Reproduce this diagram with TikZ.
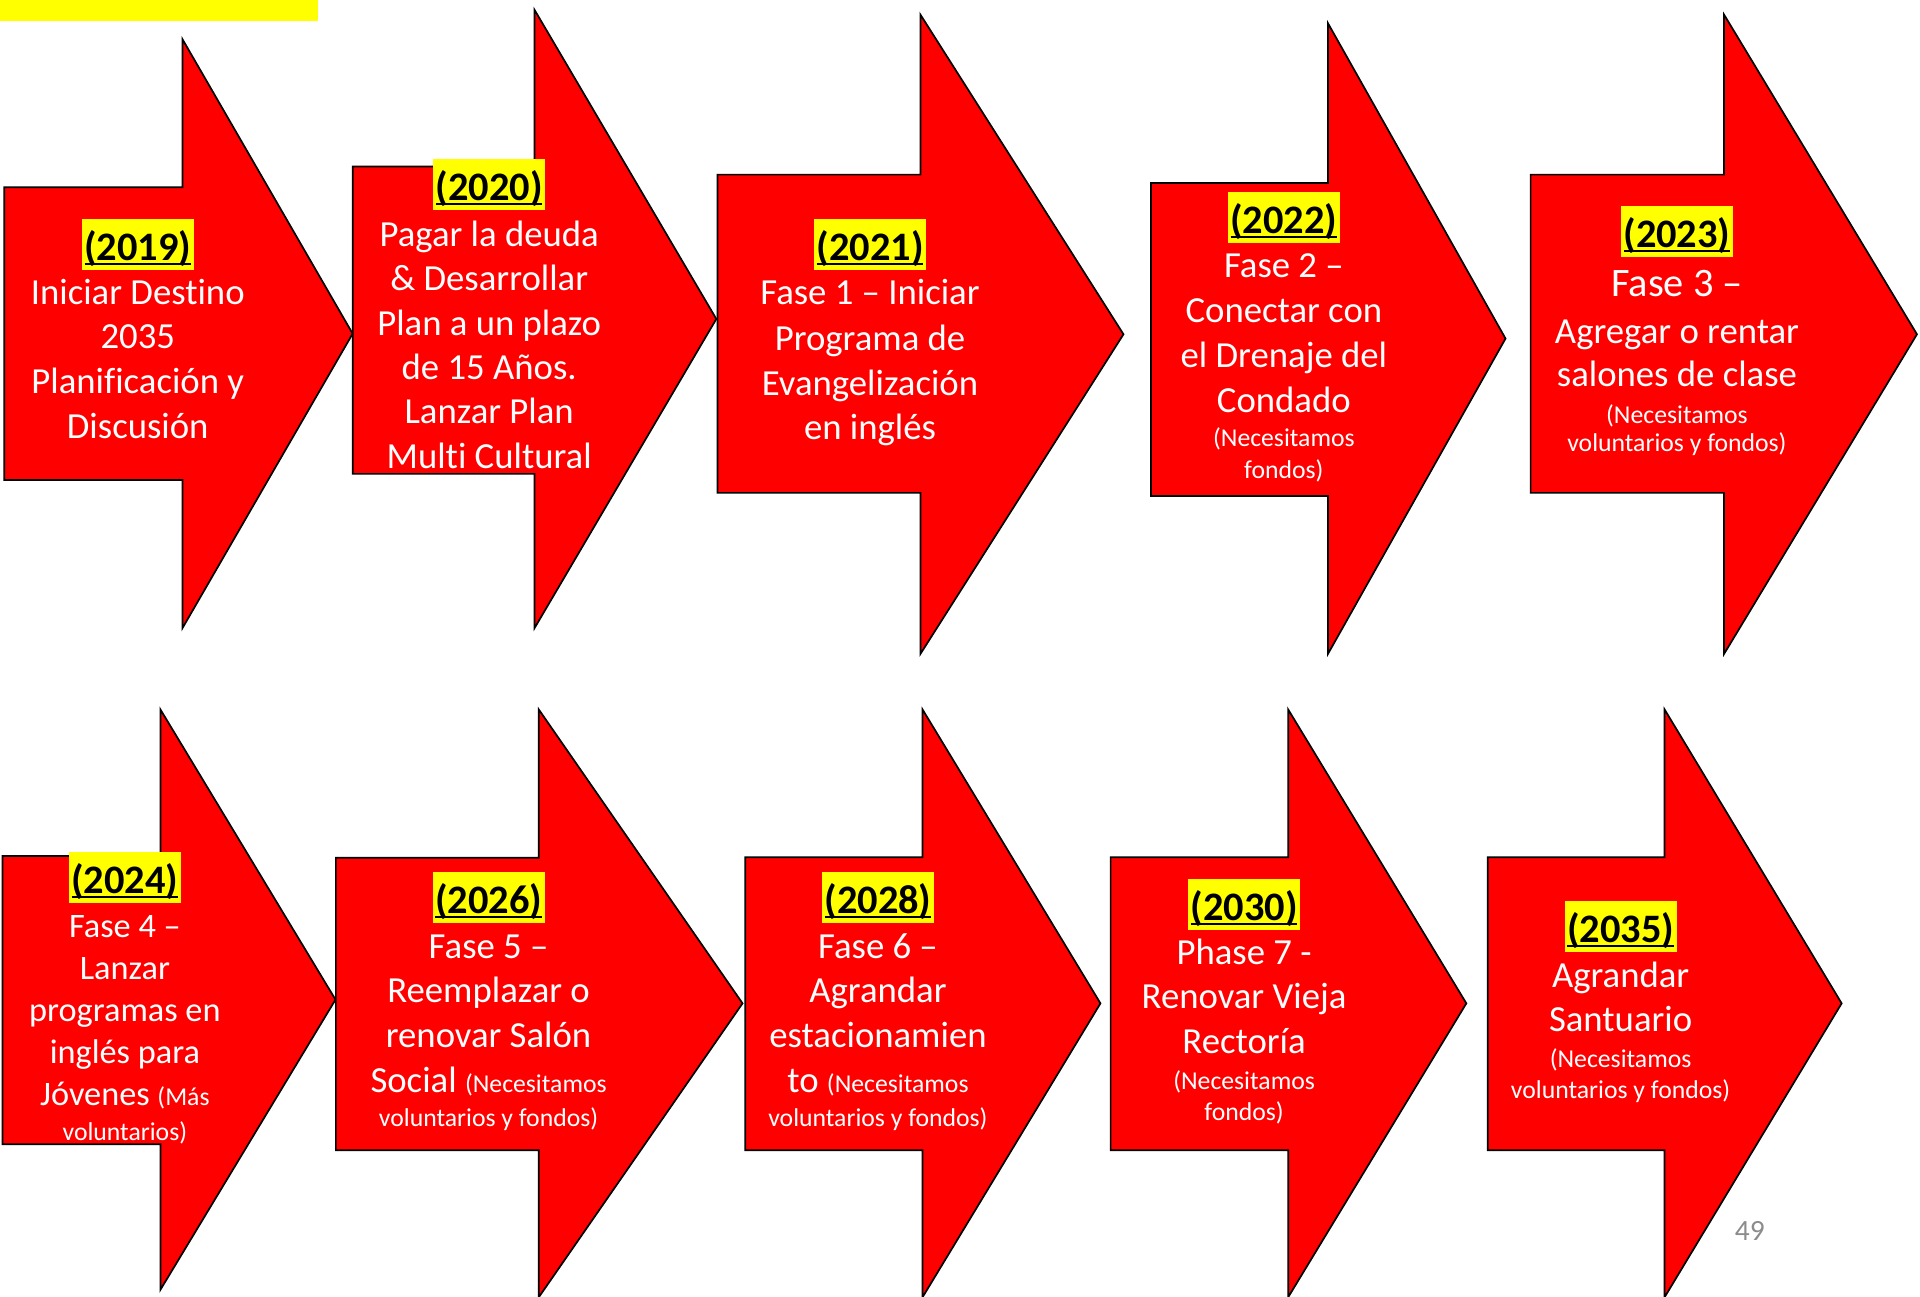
\documentclass[tikz,border=0pt]{standalone}
\usepackage{fontspec}
\setmainfont{Carlito}[Ligatures=NoCommon]
\definecolor{arrred}{HTML}{FF0000}
\definecolor{hlyellow}{HTML}{FFFF00}
\definecolor{pggray}{HTML}{8C8C8C}
\newcommand\sm[1]{{\fontsize{21}{25}\selectfont #1}}
\newcommand\myarrow[8]{%
  \draw[arrowshape] (#2,#3) -- (#5,#3) -- (#5,#6) -- (#8,{(#6+#7)/2}) -- (#5,#7) -- (#5,#4) -- (#2,#4) -- cycle;
  \coordinate (#1) at ({(#2+#8)/2},{(#6+#7)/2});}
\newcommand\textlines[4]{%
  \foreach \yy/\txt [count=\i] in {#4} {\node[#3] (#1\i) at (#2,\yy) {\txt};}}
\newcommand\yearat[4]{%
  \node[yearnode] (#1) at (#2,#3) {#4};
  \draw[line width=1.8pt] ([xshift=2.5pt,yshift=-2.8pt]#1.base west) -- ([xshift=-2.5pt,yshift=-2.8pt]#1.base east);}
\tikzset{
  arrowshape/.style={fill=arrred, draw=black, line width=1.4pt, line join=miter},
  yearnode/.style={fill=hlyellow, anchor=base, inner xsep=2pt, inner ysep=0pt,
    text height=34pt, text depth=7.5pt, text=black, font=\fontsize{33}{40}\selectfont\bfseries},
  body/.style={anchor=base, inner sep=0pt, text=white, font=\fontsize{30}{36}\selectfont},
  bodyl/.style={anchor=base, inner sep=0pt, text=white, font=\fontsize{33}{40}\selectfont},
  bodym/.style={anchor=base, inner sep=0pt, text=white, font=\fontsize{28}{34}\selectfont},
  small/.style={anchor=base, inner sep=0pt, text=white, font=\fontsize{21}{25}\selectfont},
}
\begin{document}
\begin{tikzpicture}[x=1pt,y=-1pt]
\useasboundingbox (0,0) rectangle (1568,1059);
\fill[hlyellow] (0,0) rectangle (260,17);
% row 1 arrows
\myarrow{A1}{3.5}{153}{392}{149}{32}{513}{288}
\myarrow{A2}{288}{136}{387}{436.5}{8}{513}{585}
\myarrow{A3}{586}{142.6}{402.5}{751.7}{12}{534}{917.5}
\myarrow{A4}{940}{149.5}{405}{1084.5}{19}{534}{1229.5}
\myarrow{A5}{1250}{142.6}{402.5}{1408}{12}{534}{1565.5}
% row 2 arrows
\myarrow{A6}{2}{699}{934.5}{131}{579.4}{1053.3}{274}
\myarrow{A7}{274.3}{700.5}{939.3}{440}{579.4}{1059.4}{606.4}
\myarrow{A8}{608.6}{700}{939.3}{753.4}{579.4}{1059.4}{898.7}
\myarrow{A9}{907}{700}{939.3}{1052}{579.4}{1059.4}{1197.5}
\myarrow{A10}{1215}{700}{939.3}{1359.4}{579.4}{1059.4}{1504}
% texts row 1
\yearat{y1}{112.5}{213}{(2019)}
\textlines{a1t}{112.5}{body}{248.3/Iniciar Destino, 285/2035, 321.7/Planificación y, 358.4/Discusión}
\yearat{y2}{399.5}{164}{(2020)}
\textlines{a2t}{399.5}{body}{201.2/Pagar la deuda, 237.5/\& Desarrollar, 273.7/Plan a un plazo, 310/de 15 Años., 346.2/Lanzar Plan, 382.5/Multi Cultural}
\yearat{y3}{710.5}{213}{(2021)}
\textlines{a3t}{710.5}{body}{249/Fase 1 – Iniciar, 286/Programa de, 323/Evangelización, 359/en inglés}
\yearat{y4}{1048.5}{191}{(2022)}
\textlines{a4t}{1048.5}{body}{226.5/Fase 2 –, 263.2/Conectar con, 300/el Drenaje del, 336.6/Condado}
\textlines{a4s}{1048.5}{small}{365/(Necesitamos, 391/fondos)}
\yearat{y5}{1369.5}{202.3}{(2023)}
\node[bodyl] (a5h) at (1369.5,242.3) {Fase 3 –};
\textlines{a5t}{1369.5}{body}{280.4/Agregar o rentar, 315.8/salones de clase}
\textlines{a5s}{1369.5}{small}{345.5/(Necesitamos, 369/voluntarios y fondos)}
% texts row 2
\yearat{y6}{102}{730}{(2024)}
\textlines{a6t}{102}{bodym}{765.7/Fase 4 –, 800/Lanzar, 834.2/programas en, 868.4/inglés para, 902.5/Jóvenes \sm{(Más}}
\node[small] (a6s) at (102,931) {voluntarios)};
\yearat{y7}{399}{746}{(2026)}
\textlines{a7t}{399}{body}{782.5/Fase 5 –, 819.1/Reemplazar o, 855.7/renovar Salón, 892.3/Social \sm{(Necesitamos}}
\node[small] (a7s) at (399,920.2) {voluntarios y fondos)};
\yearat{y8}{717}{746.3}{(2028)}
\textlines{a8t}{717}{body}{782.5/Fase 6 –, 819.1/Agrandar, 855.7/estacionamien, 892.3/to \sm{(Necesitamos}}
\node[small] (a8s) at (717,920.2) {voluntarios y fondos)};
\yearat{y9}{1016}{752}{(2030)}
\textlines{a9t}{1016}{body}{787.7/Phase 7 -, 824/Renovar Vieja, 860.3/Rectoría}
\textlines{a9s}{1016}{small}{889.7/(Necesitamos, 914.7/fondos)}
\yearat{y10}{1323.5}{770}{(2035)}
\textlines{a10t}{1323.5}{body}{806.4/Agrandar, 842.7/Santuario}
\textlines{a10s}{1323.5}{small}{871.4/(Necesitamos, 897/voluntarios y fondos)}
% page number
\node[text=pggray, font=\fontsize{24}{29}\selectfont, inner sep=0pt] (pg) at (1429,1005) {49};
\end{tikzpicture}
\end{document}
